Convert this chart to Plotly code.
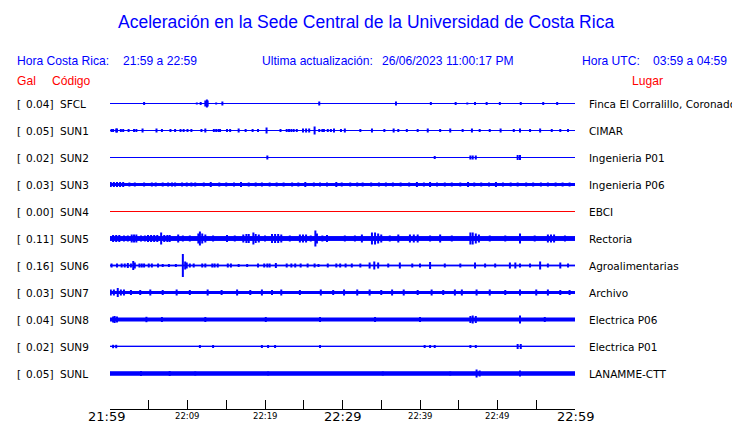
import plotly.graph_objects as go

# ---------------- data ----------------
STATIONS = ["SFCL", "SUN1", "SUN2", "SUN3", "SUN4", "SUN5", "SUN6", "SUN7", "SUN8", "SUN9", "SUNL"]
PGA_GAL = ["0.04", "0.05", "0.02", "0.03", "0.00", "0.11", "0.16", "0.03", "0.04", "0.02", "0.05"]
PLACES = ["Finca El Corralillo, Coronado", "CIMAR", "Ingenieria P01", "Ingenieria P06", "EBCI",
          "Rectoria", "Agroalimentarias", "Archivo", "Electrica P06", "Electrica P01", "LANAMME-CTT"]
# continuous background noise half-amplitude (display units)
NOISE = [0, 0, 0, 1.0, 0, 1.9, 0.4, 1.0, 1.5, 0.2, 1.7]

TICK_MIN = [0, 5, 10, 15, 20, 25, 30, 35, 40, 45, 50, 55, 60]
MAJOR_LABELS = {0: "21:59", 30: "22:29", 60: "22:59"}
MINOR_LABELS = {10: "22:09", 20: "22:19", 40: "22:39", 50: "22:49"}

# (minute after 21:59, peak amplitude in display units)
SFCL_EV = [(4.4, 1.5), (11.2, 1), (11.7, 1.5), (12.3, 3), (12.5, 4), (12.6, 3), (13.7, 1), (14.5, 2),
           (27.0, 2), (36.9, 2), (41.4, 1.5), (44.6, 1.5), (46.1, 1), (47.1, 1.5), (48.6, 1.5),
           (50.3, 1.5), (53.0, 1.5), (55.9, 1.5), (57.7, 1.5)]
SUN1_EV = [(0.2, 1.5), (0.4, 1.5), (0.8, 2), (0.9, 2), (1.4, 1.5), (1.7, 1.5), (2.4, 1.5), (3.1, 1.5),
           (3.4, 1.5), (4.2, 2), (6.0, 2), (6.7, 1.5), (7.8, 1.5), (8.4, 1.5), (9.1, 1.5), (9.5, 1.5),
           (10.0, 1.5), (10.5, 1.5), (11.8, 1.5), (12.3, 2), (13.4, 1.5), (13.7, 1.5), (14.0, 1.5),
           (14.2, 1.5), (15.1, 1.5), (15.5, 1.5), (16.6, 2), (17.5, 1.5), (18.4, 1.5), (19.1, 1.5),
           (20.2, 3), (22.0, 1.5), (22.8, 1.5), (23.1, 1.5), (23.4, 1.5), (23.7, 1.5), (24.1, 1.5),
           (24.9, 2), (25.3, 2), (25.7, 2), (26.4, 4), (27.0, 1.5), (27.4, 1.5), (27.6, 1.5), (28.1, 1.5),
           (28.5, 1.5), (28.9, 2), (29.8, 1.5), (30.3, 2), (32.3, 1.5), (33.8, 2), (35.4, 1.5), (36.6, 2),
           (37.2, 1.5), (38.3, 1.5), (39.7, 1.5), (41.0, 2), (42.6, 1.5), (43.9, 2), (45.5, 1.5),
           (46.7, 2), (47.7, 1.5), (49.0, 1.5), (50.4, 2), (52.1, 1.5), (52.9, 2), (54.2, 1.5),
           (55.5, 2), (57.0, 1.5), (58.1, 1.5), (59.1, 1.5)]
SUN2_EV = [(20.3, 2), (41.9, 1.5), (46.5, 2), (46.8, 2), (47.2, 2), (52.6, 2.5), (52.9, 2.5)]
SUN3_EV = [(0.1, 2.5), (0.5, 2.5), (0.9, 2.5), (1.3, 2.5), (1.7, 2.5), (2.5, 2), (3.2, 2), (4.4, 2),
           (5.4, 2), (5.9, 2), (6.8, 2), (7.5, 2), (8.0, 2), (8.4, 2), (9.3, 2), (9.9, 2), (10.5, 2),
           (11.0, 2), (12.1, 2), (13.0, 2.5), (14.1, 2), (15.0, 2), (16.0, 2), (16.9, 2.5), (17.9, 2),
           (18.8, 2), (19.6, 2), (20.6, 2), (21.5, 2), (22.4, 2), (23.5, 2), (24.3, 2), (25.2, 2.5),
           (26.3, 2), (27.1, 2), (28.0, 2), (29.2, 2.5), (29.9, 2), (31.0, 2), (31.9, 2), (32.6, 2),
           (33.7, 2), (34.7, 2), (35.6, 2), (36.5, 2), (37.5, 2), (38.6, 2), (39.6, 2.5), (40.5, 2),
           (41.3, 2.5), (42.2, 2), (43.2, 2), (44.1, 2), (45.2, 2), (46.2, 2.5), (47.0, 2), (47.9, 2),
           (48.9, 2), (49.8, 2.5), (50.7, 2), (51.7, 2), (52.6, 2), (53.7, 2), (54.6, 2), (55.6, 2),
           (56.5, 2), (57.5, 2), (58.4, 2), (59.3, 2)]
SUN4_EV = []
SUN5_EV = [(0.4, 3.5), (0.8, 3.5), (1.2, 3.5), (1.8, 3), (2.3, 3), (2.8, 4), (3.1, 4), (3.4, 4),
           (4.0, 3), (4.5, 3), (4.9, 3.5), (5.3, 3.5), (5.7, 3.5), (6.1, 3.5), (6.6, 6), (7.0, 3.5),
           (7.4, 3.5), (7.7, 3.5), (8.8, 4), (9.4, 3), (10.3, 3), (11.4, 5), (11.6, 7), (11.9, 5),
           (12.3, 4), (13.3, 3), (15.1, 3.5), (16.1, 3), (17.2, 4), (17.6, 4.5), (17.9, 4.5), (18.5, 6),
           (18.8, 4.5), (19.2, 4), (20.0, 3), (20.9, 4.5), (21.3, 4.5), (21.7, 4.5), (22.1, 4),
           (23.2, 3), (24.5, 4), (24.9, 4), (25.3, 4), (25.9, 3), (26.5, 8), (26.7, 5), (27.4, 3),
           (28.0, 3.5), (30.3, 3), (31.6, 3), (32.5, 4), (33.8, 6), (34.2, 6), (34.6, 5), (35.0, 4),
           (36.1, 3), (37.2, 4), (38.7, 4), (39.2, 4), (39.7, 4), (41.3, 3), (42.6, 4), (44.1, 3),
           (46.5, 6), (46.8, 6), (47.2, 5), (47.6, 4), (49.0, 3), (51.0, 3), (52.9, 5), (54.8, 3),
           (56.5, 4), (56.9, 4), (57.3, 4), (58.7, 3)]
SUN6_EV = [(0.2, 2), (0.9, 2), (1.5, 2), (1.9, 2), (2.3, 2.5), (2.7, 2), (3.0, 4.5), (3.2, 3),
           (3.8, 2), (4.1, 2), (4.4, 2), (5.0, 2), (5.4, 2), (6.2, 2), (6.8, 1.5), (7.6, 1.5), (8.5, 1.5),
           (9.4, 11.5), (9.7, 4), (9.9, 3), (10.3, 2), (10.8, 2), (11.9, 2), (12.3, 2), (13.2, 2),
           (13.5, 2), (13.9, 2), (15.2, 2), (15.6, 2), (16.6, 1.5), (17.7, 1.5), (19.1, 2), (19.9, 2),
           (20.3, 2), (20.6, 2), (21.4, 2.5), (22.8, 2), (23.4, 2), (23.9, 2), (24.6, 2), (25.5, 2),
           (26.4, 2), (26.9, 1.5), (28.1, 2), (29.2, 2), (29.7, 2), (30.4, 2), (31.2, 2), (32.3, 2),
           (33.5, 3), (34.1, 4), (34.6, 3), (35.9, 2), (37.4, 3), (39.0, 2), (40.0, 2), (41.3, 3.5),
           (43.2, 2), (45.2, 2), (47.1, 3), (48.4, 2), (49.7, 2), (51.6, 3), (52.3, 3), (52.9, 2),
           (54.2, 2), (55.5, 4), (56.5, 2), (58.1, 3), (59.1, 2)]
SUN7_EV = [(0.1, 3), (0.5, 3), (1.0, 4.5), (1.4, 3), (1.8, 3), (2.7, 2.5), (3.9, 2.5), (5.2, 3),
           (6.8, 2.5), (8.6, 3), (10.3, 2.5), (12.6, 3), (14.4, 2.5), (16.4, 3), (18.1, 2.5), (19.6, 3),
           (20.9, 2.5), (22.1, 3), (24.5, 2.5), (27.2, 3), (28.8, 2.5), (30.2, 3), (31.9, 3), (33.5, 3),
           (35.0, 2.5), (36.4, 3), (37.9, 3), (39.7, 2.5), (41.5, 3), (43.0, 2.5), (44.5, 3), (45.4, 3),
           (47.3, 3), (49.0, 3), (51.0, 2.5), (52.9, 3), (55.0, 3), (56.5, 3), (58.1, 2.5), (59.3, 2.5)]
SUN8_EV = [(0.4, 3), (0.6, 3.5), (0.9, 3), (4.7, 2.7), (6.7, 2.5), (12.3, 2.5), (20.1, 2.5), (27.1, 2.5),
           (34.2, 2.5), (40.0, 2.5), (46.5, 3.5), (46.8, 4), (47.2, 3.5), (52.9, 4), (56.1, 2.5)]
SUN9_EV = [(0.4, 1.7), (0.8, 1.7), (11.6, 1.5), (13.3, 1.5), (19.6, 1.5), (20.4, 1.5), (21.3, 1.5),
           (27.1, 1.5), (40.6, 1.5), (41.3, 1.5), (41.9, 1.5), (46.5, 1.5), (47.2, 1.5), (52.6, 2.5),
           (53.0, 2.5)]
SUNL_EV = [(4.0, 2.5), (7.7, 2.5), (11.0, 2), (20.4, 2), (35.2, 2), (43.9, 2), (47.3, 4), (47.7, 3),
           (52.9, 3)]

EVENTS = [SFCL_EV, SUN1_EV, SUN2_EV, SUN3_EV, SUN4_EV, SUN5_EV, SUN6_EV, SUN7_EV, SUN8_EV, SUN9_EV, SUNL_EV]

# ---------------- style ----------------
BLUE = "#0000ff"
RED = "#ff0000"
TRACE_COLORS = [BLUE, BLUE, BLUE, BLUE, RED, BLUE, BLUE, BLUE, BLUE, BLUE, BLUE]
AMP_TO_ROW = 1 / 27.0          # display amplitude units -> row spacing
OFF = 8                        # page body margin of the browser
W, H = 740 - OFF, 423 - OFF
L, R, T, B = 110 - OFF, 165, 90 - OFF, 14
PLOT_W = W - L - R
PLOT_H = H - T - B
ROW_PX = 27.0
Y_TOP = 0.5
Y_BOT = Y_TOP - PLOT_H / ROW_PX


def px_x(px):
    return (px - OFF - L) / PLOT_W


def px_y(py):
    return (H - B - (py - OFF)) / PLOT_H


fig = go.Figure()

for i, name in enumerate(STATIONS):
    c = -i
    col = TRACE_COLORS[i]
    b = NOISE[i] * AMP_TO_ROW
    if b > 0:
        fig.add_trace(go.Scatter(x=[0, 60, 60, 0, 0], y=[c + b, c + b, c - b, c - b, c + b],
                                 mode="lines", fill="toself", fillcolor=col,
                                 line=dict(color=col, width=1), hoverinfo="skip", showlegend=False))
    fig.add_trace(go.Scatter(x=[0, 60], y=[c, c], mode="lines",
                             line=dict(color=col, width=1), hoverinfo="skip", showlegend=False))
    xs, ys = [], []
    for t, a in EVENTS[i]:
        d = a * AMP_TO_ROW
        xs += [t, t, None]
        ys += [c - d, c + d, None]
    if xs:
        fig.add_trace(go.Scatter(x=xs, y=ys, mode="lines", line=dict(color=col, width=2),
                                 hoverinfo="skip", showlegend=False))

ann = []
lab_font = dict(family="DejaVu Sans", size=10.5, color="black")
for i, name in enumerate(STATIONS):
    yv = -i
    ann.append(dict(text="[", x=px_x(15), xref="paper", y=yv, yref="y", xanchor="left",
                    yanchor="middle", showarrow=False, font=lab_font))
    ann.append(dict(text=PGA_GAL[i] + "]", x=px_x(54.5), xref="paper", y=yv, yref="y", xanchor="right",
                    yanchor="middle", showarrow=False, font=lab_font))
    ann.append(dict(text=name, x=px_x(58), xref="paper", y=yv, yref="y", xanchor="left",
                    yanchor="middle", showarrow=False, font=lab_font))
    ann.append(dict(text=PLACES[i], x=px_x(587), xref="paper", y=yv, yref="y", xanchor="left",
                    yanchor="middle", showarrow=False, font=lab_font))

hdr = dict(family="Liberation Sans", size=12.1, color=BLUE)
red = dict(family="Liberation Sans", size=12.1, color=RED)
for txt, xp in [("Hora Costa Rica:", 15), ("21:59 a 22:59", 121), ("Ultima actualización:", 260),
                ("26/06/2023 11:00:17 PM", 380), ("Hora UTC:", 580), ("03:59 a 04:59", 651)]:
    ann.append(dict(text=txt, x=px_x(xp), xref="paper", y=px_y(61), yref="paper", xanchor="left",
                    yanchor="middle", showarrow=False, font=hdr))
for txt, xp in [("Gal", 15), ("Código", 50), ("Lugar", 630)]:
    ann.append(dict(text=txt, x=px_x(xp), xref="paper", y=px_y(81), yref="paper", xanchor="left",
                    yanchor="middle", showarrow=False, font=red))

for m, txt in MAJOR_LABELS.items():
    ann.append(dict(text=txt, x=m, xref="x", xshift=(-3.5 if m == 0 else 0), y=px_y(417), yref="paper",
                    xanchor="center", yanchor="middle", showarrow=False,
                    font=dict(family="DejaVu Sans", size=13, color="black")))
for m, txt in MINOR_LABELS.items():
    ann.append(dict(text=txt, x=m, xref="x", y=px_y(416), yref="paper",
                    xanchor="center", yanchor="middle", showarrow=False,
                    font=dict(family="DejaVu Sans", size=8.5, color="black")))

ann.append(dict(text="Aceleración en la Sede Central de la Universidad de Costa Rica",
                x=px_x(366), xref="paper", y=px_y(22), yref="paper", xanchor="center", yanchor="middle",
                showarrow=False, font=dict(family="Liberation Sans", size=17.5, color=BLUE)))

fig.update_layout(
    width=W, height=H,
    margin=dict(l=L, r=R, t=T, b=B, pad=0),
    paper_bgcolor="white", plot_bgcolor="white",
    showlegend=False,
    annotations=ann,
    xaxis=dict(range=[0, 60], showgrid=False, zeroline=False, showline=True, linecolor="black",
               linewidth=1, ticks="inside", ticklen=9, tickwidth=1, tickcolor="black",
               tickvals=TICK_MIN, showticklabels=False, fixedrange=True),
    yaxis=dict(range=[Y_BOT, Y_TOP], showgrid=False, zeroline=False, showline=False,
               showticklabels=False, ticks="", fixedrange=True),
)

fig.write_html("out.html", config={"displayModeBar": False})
